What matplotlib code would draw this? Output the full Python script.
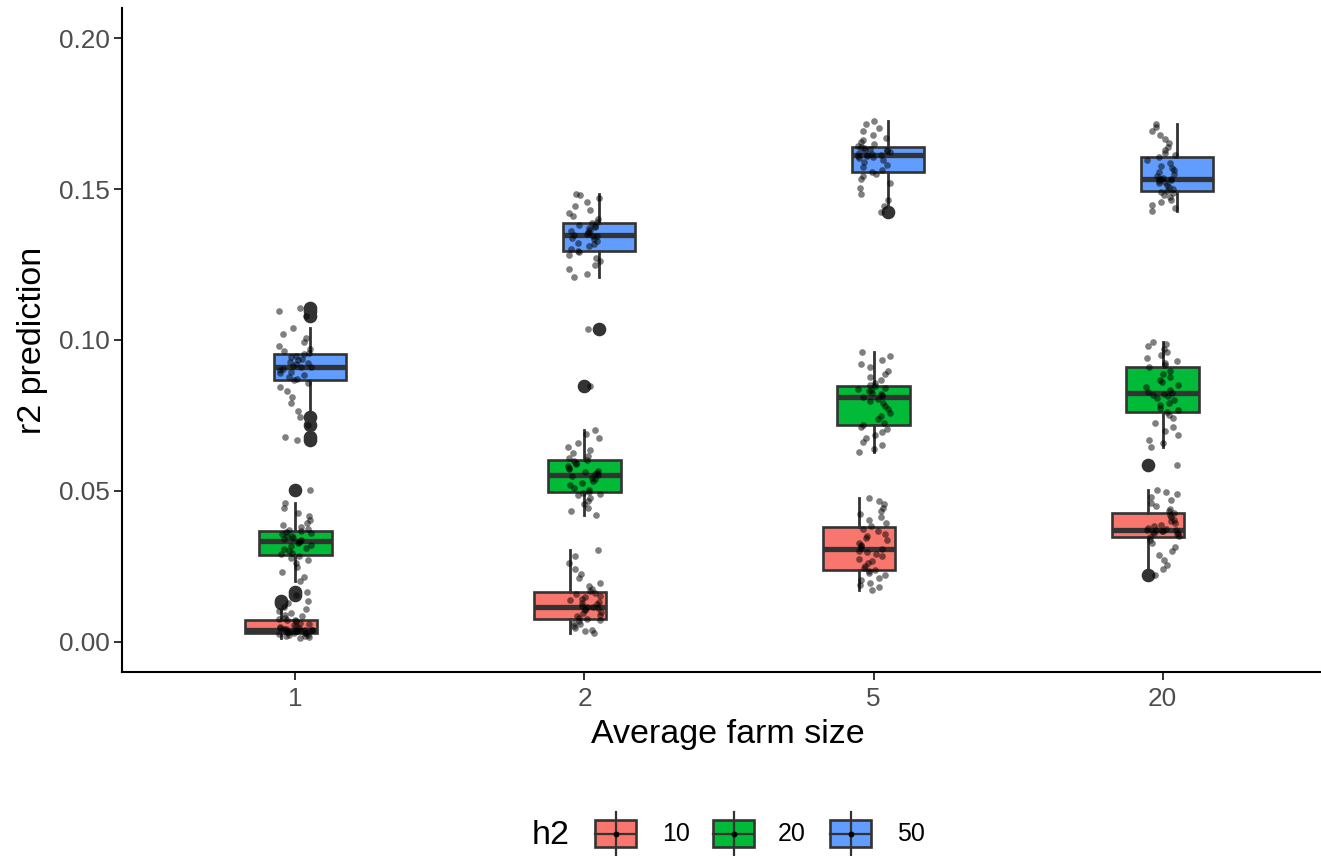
import numpy as np
import matplotlib
matplotlib.use("Agg")
import matplotlib.pyplot as plt
from matplotlib.patches import Rectangle

# ---------------- data ----------------
farm_sizes = ["1", "2", "5", "20"]
h2_levels = ["10", "20", "50"]
colors = ["#F8766D", "#00BA38", "#619CFF"]

# box statistics, order: [size][h2]
q1s = [[0.0030, 0.0288, 0.0869],
       [0.0075, 0.0495, 0.1296],
       [0.0238, 0.0717, 0.1555],
       [0.0348, 0.0761, 0.1494]]
meds = [[0.0040, 0.0335, 0.0912],
        [0.0117, 0.0554, 0.1348],
        [0.0306, 0.0811, 0.1612],
        [0.0370, 0.0824, 0.1535]]
q3s = [[0.0072, 0.0368, 0.0955],
       [0.0166, 0.0604, 0.1387],
       [0.0381, 0.0849, 0.1638],
       [0.0428, 0.0912, 0.1607]]
whislo = [[0.0012, 0.0200, 0.0765],
          [0.0029, 0.0420, 0.1208],
          [0.0172, 0.0629, 0.1445],
          [0.0240, 0.0646, 0.1426]]
whishi = [[0.0115, 0.0460, 0.1040],
          [0.0304, 0.0701, 0.1485],
          [0.0475, 0.0960, 0.1726],
          [0.0502, 0.0993, 0.1715]]
fliers = [[[0.0128, 0.0135], [0.0155, 0.0165, 0.0502],
           [0.0668, 0.0678, 0.0717, 0.0744, 0.1080, 0.1095, 0.1107]],
          [[], [0.0846], [0.1035]],
          [[], [], [0.1425]],
          [[0.0220, 0.0585], [], []]]

# individual runs (shown as jittered points)
r1 = [0.0012, 0.0015, 0.0018, 0.0020, 0.0022, 0.0024, 0.0026, 0.0028, 0.0029, 0.0030,
      0.0031, 0.0033, 0.0034, 0.0035, 0.0036, 0.0037, 0.0038, 0.0039, 0.0040, 0.0040,
      0.0041, 0.0043, 0.0045, 0.0047, 0.0050, 0.0053, 0.0056, 0.0060, 0.0064, 0.0068,
      0.0071, 0.0073, 0.0076, 0.0080, 0.0085, 0.0090, 0.0096, 0.0102, 0.0108, 0.0115,
      0.0128, 0.0135]
g1 = [0.0155, 0.0165, 0.0200, 0.0215, 0.0232, 0.0248, 0.0260, 0.0270, 0.0278, 0.0285,
      0.0290, 0.0295, 0.0300, 0.0306, 0.0312, 0.0318, 0.0322, 0.0327, 0.0331, 0.0335,
      0.0338, 0.0341, 0.0345, 0.0349, 0.0352, 0.0356, 0.0360, 0.0364, 0.0367, 0.0370,
      0.0375, 0.0381, 0.0388, 0.0395, 0.0405, 0.0416, 0.0428, 0.0445, 0.0460, 0.0502]
b1 = [0.0668, 0.0678, 0.0717, 0.0744, 0.0765, 0.0790, 0.0812, 0.0830, 0.0845, 0.0858,
      0.0866, 0.0872, 0.0878, 0.0884, 0.0890, 0.0895, 0.0900, 0.0905, 0.0909, 0.0912,
      0.0915, 0.0919, 0.0923, 0.0928, 0.0933, 0.0938, 0.0943, 0.0948, 0.0953, 0.0957,
      0.0962, 0.0970, 0.0980, 0.0992, 0.1005, 0.1020, 0.1040, 0.1080, 0.1095, 0.1107]
r2 = [0.0029, 0.0035, 0.0040, 0.0046, 0.0052, 0.0058, 0.0063, 0.0068, 0.0072, 0.0076,
      0.0080, 0.0085, 0.0090, 0.0095, 0.0100, 0.0104, 0.0108, 0.0112, 0.0115, 0.0117,
      0.0120, 0.0124, 0.0128, 0.0133, 0.0138, 0.0143, 0.0148, 0.0153, 0.0158, 0.0163,
      0.0168, 0.0175, 0.0185, 0.0196, 0.0210, 0.0225, 0.0242, 0.0262, 0.0283, 0.0304]
g2 = [0.0420, 0.0432, 0.0445, 0.0458, 0.0468, 0.0477, 0.0485, 0.0490, 0.0494, 0.0498,
      0.0503, 0.0510, 0.0518, 0.0525, 0.0532, 0.0538, 0.0543, 0.0548, 0.0552, 0.0555,
      0.0558, 0.0562, 0.0567, 0.0572, 0.0577, 0.0582, 0.0588, 0.0594, 0.0599, 0.0603,
      0.0608, 0.0615, 0.0624, 0.0634, 0.0646, 0.0660, 0.0675, 0.0690, 0.0701, 0.0846]
b2 = [0.1035, 0.1208, 0.1220, 0.1235, 0.1250, 0.1262, 0.1273, 0.1282, 0.1290, 0.1296,
      0.1302, 0.1310, 0.1317, 0.1323, 0.1329, 0.1334, 0.1339, 0.1343, 0.1346, 0.1348,
      0.1351, 0.1354, 0.1358, 0.1362, 0.1366, 0.1370, 0.1374, 0.1378, 0.1382, 0.1386,
      0.1392, 0.1400, 0.1410, 0.1420, 0.1432, 0.1445, 0.1458, 0.1470, 0.1480, 0.1485]
r3 = [0.0172, 0.0180, 0.0188, 0.0196, 0.0204, 0.0212, 0.0220, 0.0227, 0.0233, 0.0238,
      0.0244, 0.0252, 0.0260, 0.0268, 0.0275, 0.0283, 0.0290, 0.0296, 0.0302, 0.0306,
      0.0310, 0.0316, 0.0322, 0.0329, 0.0336, 0.0343, 0.0350, 0.0358, 0.0366, 0.0374,
      0.0385, 0.0395, 0.0405, 0.0415, 0.0425, 0.0435, 0.0445, 0.0455, 0.0465, 0.0475]
g3 = [0.0629, 0.0640, 0.0652, 0.0663, 0.0674, 0.0684, 0.0695, 0.0704, 0.0711, 0.0717,
      0.0726, 0.0737, 0.0748, 0.0759, 0.0770, 0.0780, 0.0790, 0.0799, 0.0806, 0.0811,
      0.0814, 0.0818, 0.0822, 0.0826, 0.0830, 0.0834, 0.0838, 0.0842, 0.0846, 0.0850,
      0.0857, 0.0866, 0.0876, 0.0887, 0.0898, 0.0910, 0.0922, 0.0935, 0.0948, 0.0960]
b3 = [0.1425, 0.1445, 0.1465, 0.1485, 0.1505, 0.1520, 0.1533, 0.1543, 0.1550, 0.1555,
      0.1562, 0.1572, 0.1581, 0.1590, 0.1597, 0.1603, 0.1607, 0.1610, 0.1611, 0.1612,
      0.1614, 0.1617, 0.1620, 0.1623, 0.1626, 0.1629, 0.1631, 0.1634, 0.1636, 0.1638,
      0.1642, 0.1648, 0.1655, 0.1662, 0.1670, 0.1680, 0.1692, 0.1704, 0.1716, 0.1726]
r4 = [0.0220, 0.0240, 0.0256, 0.0272, 0.0288, 0.0302, 0.0315, 0.0327, 0.0338, 0.0348,
      0.0352, 0.0356, 0.0359, 0.0362, 0.0364, 0.0366, 0.0368, 0.0369, 0.0370, 0.0371,
      0.0374, 0.0378, 0.0383, 0.0388, 0.0393, 0.0399, 0.0405, 0.0412, 0.0419, 0.0426,
      0.0432, 0.0440, 0.0450, 0.0460, 0.0470, 0.0480, 0.0490, 0.0497, 0.0502, 0.0585]
g4 = [0.0646, 0.0658, 0.0670, 0.0684, 0.0698, 0.0712, 0.0726, 0.0740, 0.0752, 0.0761,
      0.0768, 0.0776, 0.0784, 0.0792, 0.0800, 0.0807, 0.0813, 0.0818, 0.0822, 0.0824,
      0.0828, 0.0835, 0.0843, 0.0851, 0.0860, 0.0869, 0.0878, 0.0888, 0.0898, 0.0910,
      0.0917, 0.0924, 0.0932, 0.0940, 0.0950, 0.0960, 0.0970, 0.0980, 0.0988, 0.0993]
b4 = [0.1426, 0.1436, 0.1446, 0.1456, 0.1465, 0.1474, 0.1482, 0.1488, 0.1492, 0.1494,
      0.1500, 0.1507, 0.1513, 0.1519, 0.1524, 0.1528, 0.1531, 0.1533, 0.1534, 0.1535,
      0.1538, 0.1543, 0.1549, 0.1555, 0.1562, 0.1569, 0.1577, 0.1585, 0.1595, 0.1605,
      0.1612, 0.1620, 0.1630, 0.1640, 0.1652, 0.1665, 0.1678, 0.1692, 0.1705, 0.1715]
points = [[r1, g1, b1], [r2, g2, b2], [r3, g3, b3], [r4, g4, b4]]

yticks = [0.00, 0.05, 0.10, 0.15, 0.20]

# ---------------- figure ----------------
plt.rcParams['font.family'] = ['Liberation Sans', 'DejaVu Sans']
W, H = 1321, 856
fig = plt.figure(figsize=(W / 100, H / 100), dpi=100)

left_px, right_px, top_px, bot_px = 122, 1336, 8, 672
ax = fig.add_axes([left_px / W, 1 - bot_px / H, (right_px - left_px) / W, (bot_px - top_px) / H])

edge = "#333333"
dodge = [-0.05, 0.0, 0.05]
box_w = 0.25

for j in range(3):
    stats, pos = [], []
    for i in range(4):
        stats.append(dict(med=meds[i][j], q1=q1s[i][j], q3=q3s[i][j],
                          whislo=whislo[i][j], whishi=whishi[i][j],
                          fliers=fliers[i][j]))
        pos.append(i + 1 + dodge[j])
    ax.bxp(stats, positions=pos, widths=box_w, patch_artist=True, showcaps=False,
           boxprops=dict(facecolor=colors[j], edgecolor=edge, linewidth=1.9),
           medianprops=dict(color=edge, linewidth=3.8, solid_capstyle='butt'),
           whiskerprops=dict(color=edge, linewidth=2.0),
           flierprops=dict(marker='o', markerfacecolor=edge, markeredgecolor=edge,
                           markersize=8.8, linestyle='none'),
           manage_ticks=False, zorder=2)

rng = np.random.default_rng(7)
for i in range(4):
    for j in range(3):
        ys = np.array(points[i][j])
        xs = i + 1 + rng.uniform(-0.058, 0.058, size=len(ys))
        ax.plot(xs, ys, 'o', ms=4.8, color='black', alpha=0.5, mec='none', zorder=3)

ax.set_xlim(0.4, 4.6)
ax.set_ylim(-0.01, 0.21)
ax.set_xticks(range(1, 5))
ax.set_xticklabels(farm_sizes)
ax.set_yticks(yticks)
ax.set_yticklabels([f"{v:.2f}" for v in yticks])

for s in ['top', 'right']:
    ax.spines[s].set_visible(False)
for s in ['left', 'bottom']:
    ax.spines[s].set_color('black')
    ax.spines[s].set_linewidth(1.5)
ax.tick_params(axis='both', colors=edge, width=1.4, length=5.5, labelsize=18.8,
               labelcolor='#4D4D4D')
ax.tick_params(axis='x', pad=5)
ax.tick_params(axis='y', pad=3)

ax.set_xlabel("Average farm size", fontsize=24.5, color='black')
ax.set_ylabel("r2 prediction", fontsize=24.5, color='black')
ax.xaxis.set_label_coords((728 - left_px) / (right_px - left_px), (bot_px - 719) / (bot_px - top_px))
ax.yaxis.set_label_coords((48 - left_px) / (right_px - left_px), 0.5)

# ---------------- legend (bottom) ----------------
lax = fig.add_axes([0, 0, 1, 1], zorder=5)
lax.set_xlim(0, W)
lax.set_ylim(H, 0)
lax.axis('off')
lax.text(532, 835, "h2", fontsize=24.5, ha='left', va='center', color='black')
key_x = [595, 713, 830]
lab_x = [662, 778, 897]
kw, ky0, ky1, kyc = 41, 820, 847, 834
for j in range(3):
    cx = key_x[j] + kw / 2
    lax.plot([cx, cx], [812, 856], color=edge, lw=1.6)
    lax.add_patch(Rectangle((key_x[j], ky0), kw, ky1 - ky0, facecolor=colors[j],
                            edgecolor=edge, lw=1.9))
    lax.plot([key_x[j], key_x[j] + kw], [kyc, kyc], color=edge, lw=1.6)
    lax.plot([cx], [kyc], 'o', color='black', ms=3.2)
    lax.text(lab_x[j], kyc, h2_levels[j], fontsize=18, ha='left', va='center',
             color='black')

fig.savefig("out.png", dpi=100)
